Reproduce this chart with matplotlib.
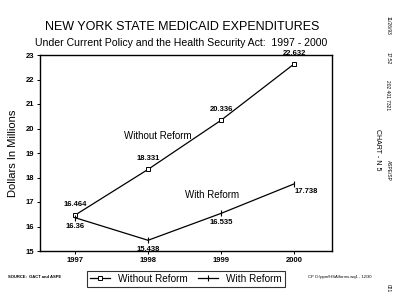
import matplotlib.pyplot as plt

years = [1997, 1998, 1999, 2000]
without_reform = [16.464, 18.331, 20.336, 22.632]
with_reform = [16.36, 15.438, 16.535, 17.738]
without_labels = ["16.464", "18.331", "20.336", "22.632"]
with_labels = ["16.36", "15.438", "16.535", "17.738"]
y_ticks = [15, 16, 17, 18, 19, 20, 21, 22, 23]

plt.rcParams['font.family'] = ['Liberation Sans', 'DejaVu Sans']

fig = plt.figure(figsize=(4, 3.05), dpi=100)
ax = fig.add_axes([40 / 400, 1 - 251 / 305, 292 / 400, 196 / 305])

ax.plot(years, without_reform, '-', color='black', lw=0.9, marker='s',
        markersize=3, markerfacecolor='white', markeredgewidth=0.7,
        label='Without Reform')
ax.plot(years, with_reform, '-', color='black', lw=0.9, marker='|',
        markersize=5, markeredgewidth=0.8, label='With Reform')

# data labels
for x, y, s in zip(years, without_reform, without_labels):
    ax.annotate(s, (x, y), xytext=(0, 5), textcoords='offset points',
                ha='center', va='bottom', fontsize=5.5, weight='bold')
offsets_w = [(0, -4), (0, -4), (0, -4), (9, -3)]
for x, y, s, (dx, dy) in zip(years, with_reform, with_labels, offsets_w):
    ax.annotate(s, (x, y), xytext=(dx, dy), textcoords='offset points',
                ha='center', va='top', fontsize=5.5, weight='bold')

ax.text(1998.13, 19.7, 'Without Reform', fontsize=7, ha='center', va='center')
ax.text(1998.88, 17.3, 'With Reform', fontsize=7, ha='center', va='center')

ax.set_xlim(1996.52, 2000.52)
ax.set_ylim(15, 23)
ax.set_xticks(years)
ax.set_yticks(y_ticks)
ax.tick_params(labelsize=5.5, length=2, width=0.7, pad=2)
for lab in ax.get_xticklabels() + ax.get_yticklabels():
    lab.set_fontweight('bold')
for sp in ax.spines.values():
    sp.set_linewidth(1.0)
ax.set_ylabel('Dollars In Millions', fontsize=8, labelpad=6)

fig.text(182 / 400, 1 - 27 / 305, 'NEW YORK STATE MEDICAID EXPENDITURES',
         ha='center', va='center', fontsize=9)
fig.text(181 / 400, 1 - 43 / 305,
         'Under Current Policy and the Health Security Act:  1997 - 2000',
         ha='center', va='center', fontsize=7.6)

leg = ax.legend(loc='upper center', bbox_to_anchor=(0.5, -0.075), ncol=2,
                fontsize=7.2, frameon=True, fancybox=False, edgecolor='black',
                handlelength=2.0, columnspacing=1.0, borderpad=0.3)
leg.get_frame().set_linewidth(0.8)

fig.text(8 / 400, 1 - 277 / 305, 'SOURCE:  OACT and ASPE', fontsize=3,
         va='center', weight='bold')
fig.text(308 / 400, 1 - 277 / 305, 'CP O:\\ppm\\HSA\\forms.wq1 - 12/30',
         fontsize=3, va='center')

# fax header along the right edge
fig.text(388 / 400, 1 - 25 / 305, '11/26/93', rotation=270, fontsize=3.5,
         ha='center', va='center')
fig.text(388 / 400, 1 - 58 / 305, '17:52', rotation=270, fontsize=3.5,
         ha='center', va='center')
fig.text(388 / 400, 1 - 95 / 305, '202 401 7321', rotation=270, fontsize=3.5,
         ha='center', va='center')
fig.text(378 / 400, 1 - 150 / 305, 'CHART - N 5', rotation=270, fontsize=5,
         ha='center', va='center')
fig.text(388 / 400, 1 - 170 / 305, 'ASPE/SP', rotation=270, fontsize=3.5,
         ha='center', va='center')
fig.text(388 / 400, 1 - 288 / 305, '021', rotation=270, fontsize=3.5,
         ha='center', va='center')

fig.savefig('out.png', dpi=100)
